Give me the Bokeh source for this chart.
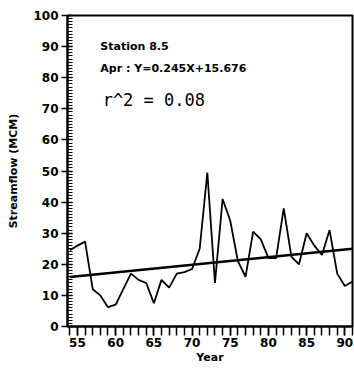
from bokeh.plotting import figure
from bokeh.models import Range1d, SingleIntervalTicker, Label
from bokeh.embed import file_html
from bokeh.resources import INLINE

years = [54, 55, 56, 57, 58, 59, 60, 61, 62, 63, 64, 65, 66, 67, 68, 69, 70, 71, 72, 73,
         74, 75, 76, 77, 78, 79, 80, 81, 82, 83, 84, 85, 86, 87, 88, 89, 90, 91]
flow = [24.5, 26, 27.3, 12, 10, 6.2, 7, 12, 17, 15, 14, 7.5, 15, 12.5, 17, 17.5, 18.5, 25, 49.5, 14,
        41, 34, 21, 16, 30.5, 28, 22, 22, 38, 22.5, 20, 30, 26, 23, 31, 17, 13, 14.5]
slope = 0.245
intercept = 15.676
station = "Station 8.5"
eq_text = "Apr : Y=0.245X+15.676"
r2_text = "r^2 = 0.08"

FONT = "DejaVu Sans"

p = figure(width=354, height=372, output_backend="svg", toolbar_location=None,
           x_range=Range1d(53.7, 91.0), y_range=Range1d(0, 100),
           min_border_left=67, min_border_right=2, min_border_top=15, min_border_bottom=46)
p.grid.visible = False
p.outline_line_color = "black"
p.outline_line_width = 2
p.background_fill_color = "white"

# data
p.line(years, flow, line_color="black", line_width=1.8)
# regression line (X = index starting at 1)
xr = [years[0], years[-1]]
yr = [intercept + slope * (x - years[0] + 1) for x in xr]
p.line(xr, yr, line_color="black", line_width=2.4)

# axes
xa = p.xaxis[0]
xa.ticker = SingleIntervalTicker(interval=5, num_minor_ticks=5)
xa.major_tick_in = 0
xa.major_tick_out = 9
xa.minor_tick_in = 0
xa.minor_tick_out = 9
xa.axis_line_width = 2
xa.major_tick_line_width = 1.5
xa.minor_tick_line_width = 1.5
xa.axis_label = "Year"
xa.axis_label_text_font = FONT
xa.axis_label_text_font_style = "bold"
xa.axis_label_text_font_size = "11px"
xa.axis_label_text_color = "black"
xa.axis_label_standoff = 1
xa.major_label_text_font = FONT
xa.major_label_text_font_style = "bold"
xa.major_label_text_font_size = "12px"
xa.major_label_text_color = "black"
xa.major_label_standoff = 2

ya = p.yaxis[0]
ya.ticker = SingleIntervalTicker(interval=10, num_minor_ticks=10)
ya.major_tick_in = 5
ya.major_tick_out = 6
ya.minor_tick_in = 5
ya.minor_tick_out = 0
ya.axis_line_width = 2
ya.major_tick_line_width = 1.5
ya.minor_tick_line_width = 1.2
ya.axis_label = "Streamflow (MCM)"
ya.axis_label_text_font = FONT
ya.axis_label_text_font_style = "bold"
ya.axis_label_text_font_size = "11px"
ya.axis_label_text_color = "black"
ya.axis_label_standoff = 10
ya.major_label_text_font = FONT
ya.major_label_text_font_style = "bold"
ya.major_label_text_font_size = "12px"
ya.major_label_text_color = "black"
ya.major_label_standoff = 3

# annotations
p.add_layout(Label(x=58.0, y=90, text=station, text_font=FONT, text_font_style="bold",
                   text_font_size="11px", text_baseline="middle", text_color="black"))
p.add_layout(Label(x=58.0, y=83, text=eq_text, text_font=FONT, text_font_style="bold",
                   text_font_size="11px", text_baseline="middle", text_color="black"))
p.add_layout(Label(x=58.3, y=72.7, text=r2_text, text_font="DejaVu Sans Mono",
                   text_font_size="17px", text_baseline="middle", text_color="black"))

open("out.html", "w").write(file_html(p, INLINE))
